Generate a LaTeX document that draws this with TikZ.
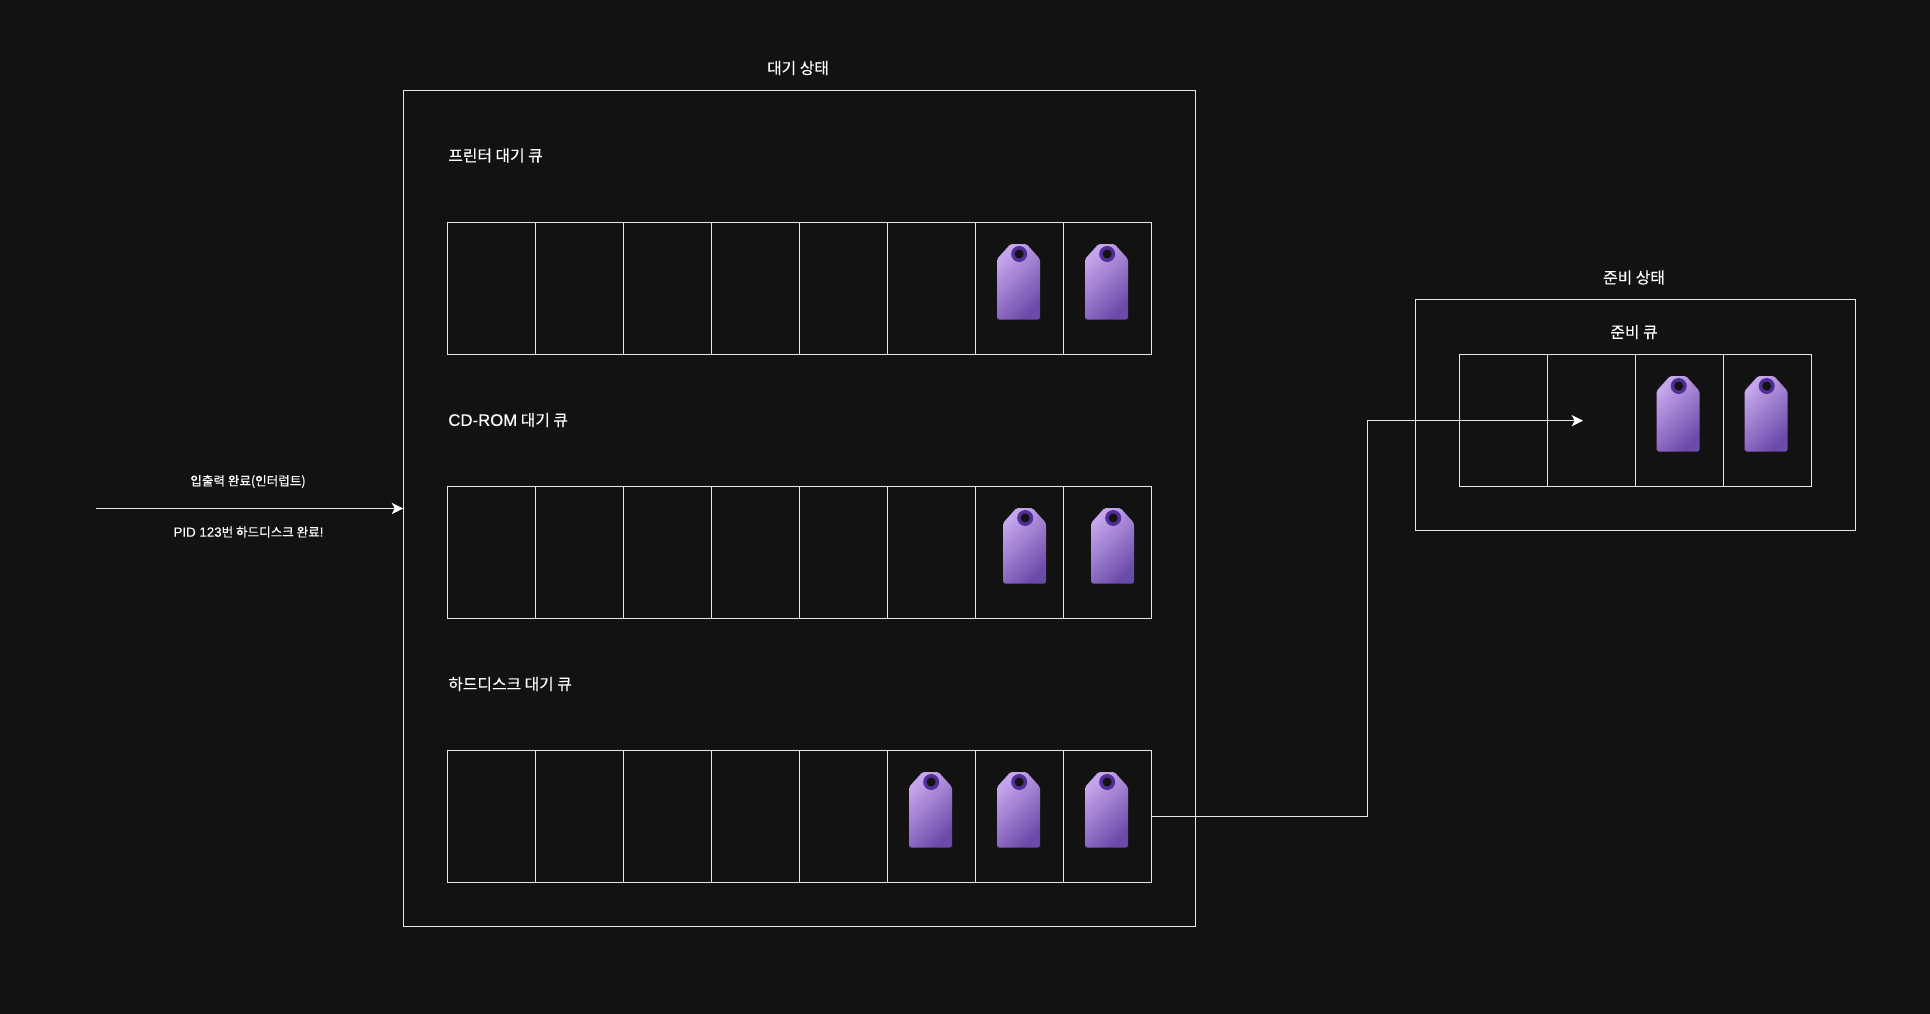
\documentclass[tikz,border=0pt]{standalone}
\usepackage{fontspec}
\setmainfont[FakeBold=0.2]{Noto Sans CJK KR}
\newfontfamily\latinfont[Scale=1.06, FakeBold=0.15]{Liberation Sans}
\usetikzlibrary{arrows.meta}
\definecolor{canvasbg}{HTML}{121212}
\definecolor{wireline}{HTML}{E6E6E6}
\definecolor{taglight}{HTML}{C6A6EC}
\definecolor{tagmid}{HTML}{9474CB}
\definecolor{tagdark}{HTML}{6B4BAA}
\definecolor{tagring}{HTML}{4F2F96}
\tikzset{
    panelbox/.style={draw=wireline, line width=0.55pt, inner sep=0pt, outer sep=0pt},
    queuecell/.style={panelbox, minimum width=1.76cm, minimum height=2.64cm},
    titletext/.style={text=white, font=\fontsize{9}{11}\selectfont, inner sep=0pt},
    smalltext/.style={text=white, font=\fontsize{7.15}{9}\selectfont, inner sep=0pt},
    wirearrow/.style={draw=wireline, line width=0.55pt, -{Stealth[length=6.5pt, width=6.5pt, inset=1.8pt, color=white]}},
    pics/proctag/.style={code={
        \path[rounded corners=1pt, top color=taglight, middle color=tagmid, bottom color=tagdark, shading angle=45]
            (-8,0) -- (8,0) -- (21.5,15) -- (21.5,75.5) -- (-21.5,75.5) -- (-21.5,15) -- cycle;
        \fill[tagring] (0.7,10) circle (0.16cm);
        \fill[canvasbg] (0.7,10) circle (0.09cm);
    }}
}
\begin{document}
\begin{tikzpicture}[x=0.02cm, y=-0.02cm]

    % Canvas
    \fill[canvasbg] (0,0) rectangle (1930,1014);
    \useasboundingbox (0,0) rectangle (1930,1014);

    % Waiting state panel
    \node[panelbox, minimum width=15.86cm, minimum height=16.74cm] (waitbox) at (799.5,508.5) {};
    \node[titletext] (waittitle) at (798,68) {대기 상태};

    % Queue titles
    \node[titletext, anchor=west] (printertitle) at (448,155.5) {프린터 대기 큐};
    \node[titletext, anchor=west] (cdromtitle) at (448,420) {{\latinfont CD-ROM} 대기 큐};
    \node[titletext, anchor=west] (disktitle) at (448,684) {하드디스크 대기 큐};

    % Queue cells
    \foreach \qname/\qy in {printer/288.5, cdrom/552.5, disk/816.5} {
        \foreach \i in {1,...,8} {
            \node[queuecell] (\qname\i) at ({447.5+88*(\i-0.5)}, \qy) {};
        }
    }

    % Ready state panel
    \node[panelbox, minimum width=8.8cm, minimum height=4.62cm] (readybox) at (1635.5,415) {};
    \node[titletext] (readytitle) at (1634,277.5) {준비 상태};
    \node[titletext] (readyqueuetitle) at (1634,332) {준비 큐};
    \foreach \i in {1,...,4} {
        \node[queuecell] (ready\i) at ({1459.5+88*(\i-0.5)}, 420.7) {};
    }

    % Process tags
    \foreach \tx/\ty in {1018.5/244, 1106.5/244, 1024.5/508, 1112.5/508, 930.5/772, 1018.5/772, 1106.5/772, 1678/376, 1766/376} {
        \pic at (\tx,\ty) {proctag};
    }

    % Interrupt arrow
    \coordinate (irqstart) at (95.5,508.5);
    \draw[wirearrow] (irqstart) -- (irqstart -| waitbox.west);
    \node[smalltext] (irqtitle) at (248,481.5) {입출력 완료(인터럽트)};
    \node[smalltext] (irqnote) at (248.5,532) {{\latinfont PID 123}번 하드디스크 완료{\latinfont !}};

    % Disk queue to ready queue
    \coordinate (readyend) at (1583,420.7);
    \coordinate (wirebend) at (1367,420.7);
    \draw[wirearrow] (disk8.east) -| (wirebend) -- (readyend);

\end{tikzpicture}
\end{document}
